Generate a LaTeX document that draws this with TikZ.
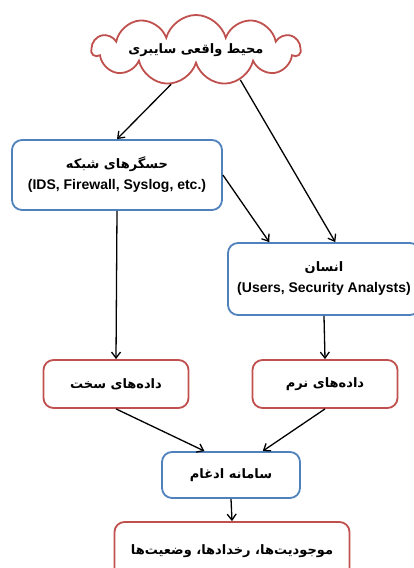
\documentclass[tikz,border=0pt]{standalone}
\usepackage{fontspec}
\setmainfont{Liberation Sans}
\newfontfamily\persianfont[Script=Arabic]{DejaVu Sans}
\TeXXeTstate=1
\usetikzlibrary{arrows.meta,shapes.symbols}
\definecolor{boxblue}{HTML}{4F81BD}
\definecolor{boxred}{HTML}{C0504D}
\newcommand{\fatext}[1]{{\persianfont\beginR #1\endR}}
\newcommand{\entext}[1]{{\fontsize{14}{16}\selectfont #1}}

\begin{document}
\begin{tikzpicture}[x=1pt,y=1pt,
    bluebox/.style={draw=boxblue, line width=1.8pt, rounded corners=10pt, fill=white,
      align=center, font=\fontsize{13}{16}\selectfont\bfseries},
    redbox/.style={bluebox, draw=boxred},
    link/.style={-{Straight Barb[length=6pt,width=9pt]}, line width=1.3pt}]
  \useasboundingbox (0,0) rectangle (414,568);
  \node[cloud, cloud puffs=11, cloud ignores aspect, draw=boxred, line width=1.8pt, fill=white,
    minimum width=208pt, minimum height=70pt, inner sep=0pt,
    font=\fontsize{13}{16}\selectfont\bfseries]
    (cyber) at (196,518) {\fatext{محیط واقعی سایبری}};
  \node[bluebox, minimum width=210pt, minimum height=70pt] (sensors) at (117,393)
    {\fatext{حسگرهای شبکه}\\[5pt] \entext{(IDS, Firewall, Syslog, etc.)}};
  \node[bluebox, minimum width=192pt, minimum height=72pt] (human) at (324,289)
    {\fatext{انسان}\\[5pt] \entext{(Users, Security Analysts)}};
  \node[redbox, minimum width=145pt, minimum height=48pt] (hard) at (116,184)
    {\fatext{داده‌های سخت}};
  \node[redbox, minimum width=145pt, minimum height=48pt] (soft) at (325,184)
    {\fatext{داده‌های نرم}};
  \node[bluebox, minimum width=138pt, minimum height=46pt] (fusion) at (231,93)
    {\fatext{سامانه ادغام}};
  \node[redbox, minimum width=235pt, minimum height=58pt] (out) at (232,17)
    {\fatext{موجودیت‌ها، رخدادها، وضعیت‌ها}};
  \draw[link] (cyber.234) -- (sensors.north);
  \draw[link] (cyber.326) -- (human.73);
  \draw[link] (sensors.east) -- (human.146);
  \draw[link] (sensors.south) -- (hard.north);
  \draw[link] (human.south) -- (soft.north);
  \draw[link] (hard.south) -- (fusion.138);
  \draw[link] (soft.south) -- (fusion.37);
  \draw[link] (fusion.south) -- (out.north);
\end{tikzpicture}
\end{document}
